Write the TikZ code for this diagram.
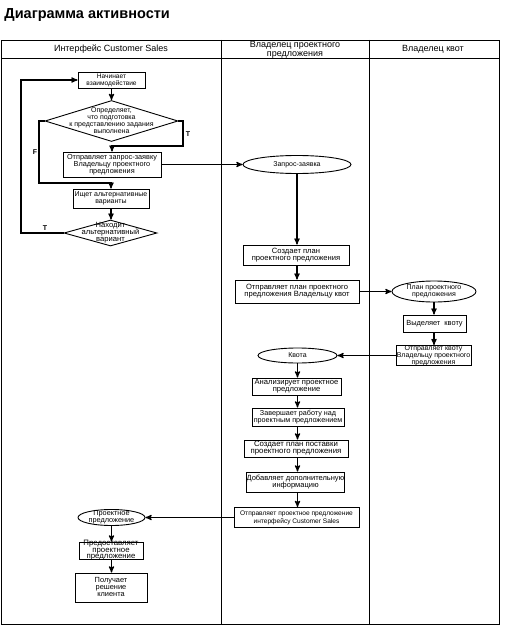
\documentclass[tikz,border=0pt]{standalone}
\usepackage{fontspec}
\setmainfont{Liberation Sans}
\usetikzlibrary{%
  arrows,%
  shapes.geometric,% wg. diamond, ellipse
  positioning%
}
\newcommand{\boxtext}[1]{\smash{\raisebox{-2pt}{\begin{tabular}{@{}c@{}}#1\end{tabular}}}}

\begin{document}
\begin{tikzpicture}
[x=1pt, y=-1pt, draw=black, line width=0.9pt, >=stealth',
act/.style={rectangle, draw, inner sep=0pt, font=\fontsize{7}{7}\selectfont},
dec/.style={diamond, draw, aspect=3, inner sep=0pt, font=\fontsize{7}{7}\selectfont},
obj/.style={ellipse, draw, inner sep=0pt, font=\fontsize{7}{7}\selectfont},
lane/.style={inner sep=0pt, align=center, font=\fontsize{9}{8.5}\selectfont},
tf/.style={inner sep=0pt, font=\fontsize{7}{7}\selectfont\bfseries},
flow/.style={->, line width=1.2pt}]

\useasboundingbox (0,0) rectangle (504,626);

% title and swimlanes
\node[anchor=west, inner sep=0pt, font=\fontsize{14.5}{15}\selectfont\bfseries] (title) at (4,15) {Диаграмма активности};
\draw (1,40) rectangle (499,624);
\draw (1,58) -- (499,58);
\draw (221,40) -- (221,624);
\draw (369,40) -- (369,624);
\node[lane] (lane1) at (111,49.5) {Интерфейс Customer Sales};
\node[lane] (lane2) at (295,50) {Владелец проектного\\предложения};
\node[lane] (lane3) at (433,49) {Владелец квот};

% lane 1
\node[act, minimum width=67, minimum height=16, font=\fontsize{6.6}{7}\selectfont] (start) at (111.5,80) {\boxtext{Начинает\\взаимодействие}};
\node[dec, minimum width=133, minimum height=41] (d1) at (111.5,121) {\boxtext{Определяет,\\что подготовка\\к представлению задания\\выполнена}};
\node[act, minimum width=98, minimum height=25, font=\fontsize{7.3}{7}\selectfont] (send) at (112,164.5) {\boxtext{Отправляет запрос-заявку\\Владельцу проектного\\предложения}};
\node[act, minimum width=76, minimum height=19] (alt) at (111,198.5) {\boxtext{Ищет альтернативные\\варианты}};
\node[dec, minimum width=93, minimum height=26, font=\fontsize{7.6}{7}\selectfont] (d2) at (110.5,233) {\boxtext{Находит\\альтернативный\\вариант}};
\node[obj, minimum width=67, minimum height=16, font=\fontsize{7.3}{7}\selectfont] (prop) at (111.5,517.5) {\boxtext{Проектное\\предложение}};
\node[act, minimum width=64, minimum height=17, font=\fontsize{7.8}{6.5}\selectfont] (give) at (111,550.5) {\boxtext{Предоставляет\\проектное\\предложение}};
\node[act, minimum width=72, minimum height=29, font=\fontsize{7.4}{7}\selectfont] (get) at (111,587.5) {\boxtext{Получает\\решение\\клиента}};

% lane 2
\node[obj, minimum width=108, minimum height=18] (req) at (297,164.5) {\boxtext{Запрос-заявка}};
\node[act, minimum width=106, minimum height=20, font=\fontsize{7.6}{7}\selectfont] (plan) at (296,255) {\boxtext{Создает план\\проектного предложения}};
\node[act, minimum width=124, minimum height=23, font=\fontsize{7.6}{7.5}\selectfont] (sendplan) at (297,291.5) {\boxtext{Отправляет план проектного\\предложения Владельцу квот}};
\node[obj, minimum width=79, minimum height=15] (quota) at (297.5,355.5) {\boxtext{Квота}};
\node[act, minimum width=89, minimum height=17, font=\fontsize{7.6}{7}\selectfont] (anal) at (296.5,386.5) {\boxtext{Анализирует проектное\\предложение}};
\node[act, minimum width=92, minimum height=18, font=\fontsize{7.2}{7.5}\selectfont] (fin) at (298,417) {\boxtext{Завершает работу над\\проектным предложением}};
\node[act, minimum width=104, minimum height=17, font=\fontsize{7.8}{7.5}\selectfont] (deliv) at (296,448.5) {\boxtext{Создает план поставки\\проектного предложения}};
\node[act, minimum width=95, minimum height=20, font=\fontsize{7.5}{7.5}\selectfont] (add) at (295.5,482) {\boxtext{Добавляет дополнительную\\информацию}};
\node[act, minimum width=125, minimum height=20, font=\fontsize{6.6}{7.5}\selectfont] (ret) at (296.5,517.5) {\boxtext{Отправляет проектное предложение\\интерфейсу Customer Sales}};

% lane 3
\node[obj, minimum width=84, minimum height=21] (planobj) at (434,291.5) {\boxtext{План проектного\\предложения}};
\node[act, minimum width=63, minimum height=17, font=\fontsize{7.4}{7}\selectfont] (alloc) at (434.5,323.5) {\boxtext{Выделяет\ \ квоту}};
\node[act, minimum width=75, minimum height=20] (sendq) at (433.5,355.5) {\boxtext{Отправляет квоту\\Владельцу проектного\\предложения}};

% branch corners
\coordinate (tR) at (183,146);
\coordinate (fL) at (39,183);
\coordinate (lL) at (21,150);

% flows
\draw[flow] (start.south) -- (start.south |- d1.north);
\draw[flow] (d1.east) -| (tR) -| (send.north);
\draw[flow] (d1.west) -| (fL) -| (alt.north);
\draw[flow] (send.east) -- (req.west);
\draw[flow] (alt.south) -- (alt.south |- d2.north);
\draw[flow] (d2.west) -| (lL) |- (start.west);
\draw[flow] (req.south) -- (req.south |- plan.north);
\draw[flow] (plan.south -| req.south) -- (sendplan.north -| req.south);
\draw[flow] (sendplan.east) -- (planobj.west);
\draw[flow] (planobj.south) -- (planobj.south |- alloc.north);
\draw[flow] (alloc.south -| planobj.south) -- (sendq.north -| planobj.south);
\draw[flow] (sendq.west) -- (quota.east);
\draw[flow] (quota.south) -- (quota.south |- anal.north);
\draw[flow] (anal.south -| quota.south) -- (fin.north -| quota.south);
\draw[flow] (fin.south -| quota.south) -- (deliv.north -| quota.south);
\draw[flow] (deliv.south -| quota.south) -- (add.north -| quota.south);
\draw[flow] (add.south -| quota.south) -- (ret.north -| quota.south);
\draw[flow] (ret.west) -- (prop.east);
\draw[flow] (prop.south) -- (prop.south |- give.north);
\draw[flow] (give.south -| prop.south) -- (get.north -| prop.south);

% guard labels
\node[tf] (t1) at (188,134) {T};
\node[tf] (f1) at (35,152) {F};
\node[tf] (t2) at (45,228) {T};
\end{tikzpicture}
\end{document}
